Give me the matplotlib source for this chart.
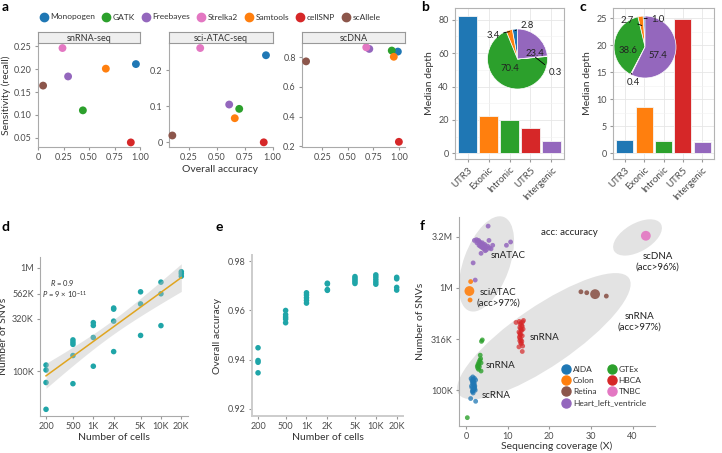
import numpy as np
import matplotlib.pyplot as plt
import matplotlib.transforms as mtransforms
from matplotlib.lines import Line2D
from matplotlib.patches import Ellipse

plt.rcParams['font.family'] = ['Lato', 'DejaVu Sans']
plt.rcParams['font.size'] = 6.5
plt.rcParams['mathtext.fontset'] = 'custom'
plt.rcParams['mathtext.it'] = 'Lato:italic'
plt.rcParams['mathtext.rm'] = 'Lato'
plt.rcParams['text.color'] = '#333333'
plt.rcParams['axes.labelcolor'] = '#333333'
plt.rcParams['xtick.color'] = '#999999'
plt.rcParams['ytick.color'] = '#999999'
plt.rcParams['xtick.labelcolor'] = '#4d4d4d'
plt.rcParams['ytick.labelcolor'] = '#4d4d4d'
plt.rcParams['xtick.major.size'] = 2.5
plt.rcParams['ytick.major.size'] = 2.5
plt.rcParams['xtick.major.pad'] = 2
plt.rcParams['ytick.major.pad'] = 2
plt.rcParams['axes.edgecolor'] = '#aaaaaa'
plt.rcParams['axes.linewidth'] = 0.8

# ---- panel a: benchmarking of callers ----
tools = ['Monopogen', 'GATK', 'Freebayes', 'Strelka2', 'Samtools', 'cellSNP', 'scAllele']
tool_colors = ['#1f77b4', '#2ca02c', '#9467bd', '#e377c2', '#ff7f0e', '#d62728', '#8c564b']
snrna_acc = [0.96, 0.44, 0.295, 0.24, 0.665, 0.91, 0.05]
snrna_sens = [0.211, 0.110, 0.184, 0.246, 0.201, 0.040, 0.164]
sciatac_acc = [0.94, 0.70, 0.61, 0.35, 0.66, 0.92, 0.10]
sciatac_sens = [0.242, 0.093, 0.105, 0.262, 0.067, 0.000, 0.019]
scdna_acc = [0.99, 0.93, 0.71, 0.68, 0.95, 1.00, 0.09]
scdna_sens = [0.839, 0.846, 0.857, 0.868, 0.804, 0.230, 0.773]

# ---- panels b, c: median depth per region + SNV share pies ----
regions = ['UTR3', 'Exonic', 'Intronic', 'UTR5', 'Intergenic']
region_colors = ['#1f77b4', '#ff7f0e', '#2ca02c', '#d62728', '#9467bd']
b_depth = [82.3, 22.2, 20.2, 15.2, 7.2]
c_depth = [2.4, 8.6, 2.35, 24.9, 2.1]
b_share = [2.8, 3.4, 70.4, 0.3, 23.4]
c_share = [1.0, 2.7, 38.6, 0.4, 57.4]

# ---- panel d: number of SNVs vs number of cells ----
d_cells = [200] * 4 + [500] * 5 + [1000] * 4 + [2000] * 4 + [5000] * 3 + [10000] * 3 + [20000] * 3
d_snvs = [115e3, 103e3, 78e3, 43e3,
          201e3, 191e3, 182e3, 142e3, 76e3,
          295e3, 277e3, 212e3, 112e3,
          408e3, 398e3, 305e3, 155e3,
          585e3, 447e3, 222e3,
          725e3, 560e3, 276e3,
          914e3, 875e3, 828e3]

# ---- panel e: accuracy vs number of cells ----
e_cells = [200] * 4 + [500] * 5 + [1000] * 5 + [2000] * 4 + [5000] * 5 + [10000] * 5 + [20000] * 4
e_acc = [0.9448, 0.9396, 0.9389, 0.9346,
         0.9600, 0.9583, 0.9573, 0.9565, 0.9550,
         0.9672, 0.9663, 0.9652, 0.9641, 0.9630,
         0.9711, 0.9708, 0.9685, 0.9682,
         0.9738, 0.9731, 0.9724, 0.9717, 0.9710,
         0.9745, 0.9736, 0.9726, 0.9716, 0.9707,
         0.9735, 0.9729, 0.9694, 0.9683]

# ---- panel f: SNVs vs sequencing coverage per dataset ----
aida_cov = [1.2, 1.4, 1.5, 1.6, 1.7, 1.8, 1.9, 2.0, 2.1, 2.2, 1.5, 1.7, 1.9, 2.1, 1.6,
            1.8, 2.0, 1.4, 1.6, 1.8, 2.0, 2.3, 1.3, 1.7, 1.1, 2.3]
aida_snv = [130e3, 125e3, 120e3, 135e3, 128e3, 118e3, 112e3, 108e3, 104e3, 100e3, 97e3,
            94e3, 102e3, 110e3, 115e3, 123e3, 131e3, 106e3, 99e3, 104e3, 117e3, 126e3,
            110e3, 100e3, 83e3, 78e3]
colon_cov = [1.1, 0.96]
colon_snv = [1.15e6, 0.76e6]
retina_cov = [27.6, 29.0, 33.7]
retina_snv = [0.914e6, 0.895e6, 0.83e6]
heart_cov = [5.3, 2.0, 2.5, 2.8, 3.0, 3.3, 3.6, 3.9, 4.2, 4.5, 4.8, 5.2, 5.6, 6.0, 6.4,
             3.1, 3.7, 4.3, 4.9, 2.6, 3.4, 4.0, 10.7, 9.7, 3.6, 1.7, 2.2, 4.6, 5.5]
heart_snv = [4.0e6, 2.9e6, 2.95e6, 2.85e6, 2.9e6, 2.8e6, 2.7e6, 2.75e6, 2.6e6, 2.65e6,
             2.5e6, 2.55e6, 2.45e6, 2.4e6, 2.6e6, 2.6e6, 2.5e6, 2.4e6, 2.35e6, 2.75e6,
             2.55e6, 2.45e6, 2.8e6, 2.6e6, 2.17e6, 1.75e6, 1.19e6, 2.3e6, 2.9e6]
gtex_cov = [3.7, 3.9, 3.4, 2.7, 2.9, 3.1, 3.3, 3.5, 2.8, 3.0, 3.2, 3.6, 3.0, 3.6, 0.3]
gtex_snv = [300e3, 310e3, 220e3, 172e3, 180e3, 188e3, 196e3, 203e3, 165e3, 175e3, 170e3,
            185e3, 160e3, 154e3, 54e3]
hbca_cov = [12.0, 12.8, 13.0, 13.2, 13.4, 13.6, 12.9, 13.1, 13.3, 13.5, 12.7, 12.9, 13.1,
            13.3, 13.5, 13.7, 12.8, 13.0, 13.2, 13.4, 13.1, 13.3, 12.9, 13.6, 12.7, 13.5,
            13.0, 13.8]
hbca_snv = [459e3, 470e3, 440e3, 455e3, 430e3, 465e3, 410e3, 400e3, 390e3, 420e3, 370e3,
            360e3, 350e3, 380e3, 340e3, 395e3, 330e3, 320e3, 310e3, 300e3, 290e3, 285e3,
            305e3, 270e3, 265e3, 239e3, 345e3, 480e3]
tnbc_cov = []
tnbc_snv = []
# dataset medians (big dots)
median_names = ['Colon', 'Retina', 'TNBC']
median_cov = [0.8, 31.0, 43.2]
median_snv = [0.93e6, 0.867e6, 3.22e6]

datasets = ['AIDA', 'Colon', 'Retina', 'Heart_left_ventricle', 'GTEx', 'HBCA', 'TNBC']
dataset_colors = {'AIDA': '#1f77b4', 'Colon': '#ff7f0e', 'Retina': '#8c564b',
                  'Heart_left_ventricle': '#9467bd', 'GTEx': '#2ca02c', 'HBCA': '#d62728',
                  'TNBC': '#e377c2'}

W, H = 722, 453
fig = plt.figure(figsize=(W / 100, H / 100), dpi=100)


def box(l, t, r, b):
    return fig.add_axes([l / W, 1 - b / H, (r - l) / W, (b - t) / H])


def letter(x, y, s):
    fig.text(x / W, 1 - y / H, s, fontsize=10, fontweight='bold', color='black',
             ha='center', va='center')


def classic(ax):
    ax.spines['top'].set_visible(False)
    ax.spines['right'].set_visible(False)


# ================= panel a =================
facets = [('snRNA-seq', snrna_acc, snrna_sens, (38, 140), (0, 1.0), (0.030, 0.257),
           [0, 0.25, 0.5, 0.75, 1.0], ['0', '0.25', '0.50', '0.75', '1.00'],
           [0.05, 0.10, 0.15, 0.20, 0.25], ['0.05', '0.10', '0.15', '0.20', '0.25']),
          ('sci-ATAC-seq', sciatac_acc, sciatac_sens, (169, 273), (0.07, 1.003), (-0.013, 0.276),
           [0.25, 0.5, 0.75, 1.0], ['0.25', '0.50', '0.75', '1.00'],
           [0, 0.1, 0.2], ['0', '0.1', '0.2']),
          ('scDNA', scdna_acc, scdna_sens, (302, 405), (0.05, 1.06), (0.195, 0.897),
           [0.25, 0.5, 0.75, 1.0], ['0.25', '0.50', '0.75', '1.00'],
           [0.2, 0.4, 0.6, 0.8], ['0.2', '0.4', '0.6', '0.8'])]

for name, xs, ys, (l, r), xl, yl, xt, xtl, yt, ytl in facets:
    ax = box(l, 43, r, 147)
    classic(ax)
    ax.scatter(xs, ys, c=tool_colors, s=32, edgecolors='none', zorder=3, clip_on=False)
    ax.set_xlim(*xl)
    ax.set_ylim(*yl)
    ax.set_xticks(xt, xtl)
    ax.set_yticks(yt, ytl)
    strip = box(l, 32, r, 43)
    strip.set_facecolor('#efefef')
    strip.set_xticks([])
    strip.set_yticks([])
    for sp in strip.spines.values():
        sp.set_color('#999999')
    strip.text(0.5, 0.45, name, ha='center', va='center', fontsize=6.5, color='#333333',
               transform=strip.transAxes)

fig.text(220 / W, 1 - 170 / H, 'Overall accuracy', ha='center', va='center', fontsize=7.5)
fig.text(6 / W, 1 - 95 / H, 'Sensitivity (recall)', ha='center', va='center', fontsize=7.5,
         rotation=90)

handles = [Line2D([], [], marker='o', ls='none', color=c, markersize=6) for c in tool_colors]
fig.legend(handles, tools, ncol=7, loc='center', bbox_to_anchor=(210 / W, 1 - 17 / H),
           frameon=False, fontsize=6, handletextpad=0.3, columnspacing=0.8,
           handlelength=1.0, borderpad=0)
letter(5, 7, 'a')


# ================= panels b, c =================
def depth_panel(l, r, depth, ylim, yticks, minor, share, pie_rect, pie_labels):
    ax = box(l, 8, r, 159)
    xpos = np.arange(len(regions))
    ax.bar(xpos, depth, width=0.87, color=region_colors, edgecolor='#f5f5f5', linewidth=0.6,
           zorder=2)
    ax.set_xlim(-0.6, len(regions) - 0.4)
    ax.set_ylim(*ylim)
    ax.set_yticks(yticks)
    ax.set_yticks(minor, minor=True)
    ax.tick_params(axis='y', which='minor', length=0)
    ax.set_xticks(xpos, regions, rotation=45, ha='right', rotation_mode='anchor', fontsize=7)
    ax.grid(True, which='major', color='#e6e6e6', lw=0.6, zorder=0)
    ax.grid(True, which='minor', axis='y', color='#f2f2f2', lw=0.4, zorder=0)
    for sp in ax.spines.values():
        sp.set_color('#b3b3b3')
    ax.set_ylabel('Median depth', fontsize=7.5, labelpad=3)

    pax = box(*pie_rect)
    wedges, _ = pax.pie(share, colors=region_colors, startangle=90, counterclock=True,
                        wedgeprops=dict(edgecolor='white', linewidth=0.5))
    pax.set_xlim(-1, 1)
    pax.set_ylim(-1, 1)
    pax.set_aspect('equal')
    for i, (tx, ty, rr) in pie_labels.items():
        lab = '%.1f' % share[i]
        if rr is None:
            pax.text(tx, ty, lab, ha='center', va='center', fontsize=6.8, color='#222222')
        else:
            w = wedges[i]
            ang = np.deg2rad((w.theta1 + w.theta2) / 2)
            pax.annotate(lab, xy=(rr * np.cos(ang), rr * np.sin(ang)), xytext=(tx, ty),
                         ha='center', va='center', fontsize=6.8, color='#222222',
                         arrowprops=dict(arrowstyle='-', color='black', lw=0.6,
                                         shrinkA=1, shrinkB=0),
                         annotation_clip=False)
    return ax


depth_panel(455, 564, b_depth, (-3.4, 87), [0, 20, 40, 60, 80], [10, 30, 50, 70],
            b_share, (487.5, 29, 547.5, 89),
            {0: (0.32, 1.13, 0.95), 1: (-0.82, 0.80, 0.95), 2: (-0.25, -0.33, None),
             3: (1.25, -0.46, 0.6), 4: (0.58, 0.2, None)})
depth_panel(613, 714, c_depth, (-1.03, 26.9), [0, 5, 10, 15, 20, 25], [2.5, 7.5, 12.5, 17.5, 22.5],
            c_share, (614, 16, 676, 78),
            {0: (0.42, 0.9, 0.92), 1: (-0.58, 0.87, 0.7), 2: (-0.55, -0.1, None),
             3: (-0.39, -1.16, 0.95), 4: (0.42, -0.26, None)})
letter(425, 7, 'b')
letter(583, 7, 'c')

# ================= panel d =================
teal = '#1fa5a8'
ax = box(40, 257, 188, 416)
classic(ax)
lx = np.log10(d_cells)
ly = np.log10(d_snvs)
slope, icpt = np.polyfit(lx, ly, 1)
n = len(lx)
resid = ly - (slope * lx + icpt)
s_err = np.sqrt(np.sum(resid ** 2) / (n - 2))
gx = np.linspace(lx.min(), lx.max(), 100)
gy = slope * gx + icpt
se = s_err * np.sqrt(1 / n + (gx - lx.mean()) ** 2 / np.sum((lx - lx.mean()) ** 2))
t_crit = 2.064
ax.scatter(d_cells, d_snvs, s=16, color=teal, edgecolors='none', zorder=2)
ax.fill_between(10 ** gx, 10 ** (gy - t_crit * se), 10 ** (gy + t_crit * se),
                color='#bdbdbd', alpha=0.4, lw=0, zorder=3)
ax.plot(10 ** gx, 10 ** gy, color='#e0a520', lw=1.1, zorder=4)
ax.set_xscale('log')
ax.set_yscale('log')
ax.set_xlim(10 ** 2.212, 10 ** 4.40)
ax.set_ylim(10 ** 4.569, 10 ** 6.103)
cell_ticks = [200, 500, 1000, 2000, 5000, 10000, 20000]
cell_labels = ['200', '500', '1K', '2K', '5K', '10K', '20K']
ax.set_xticks(cell_ticks, cell_labels)
ax.set_xticks([], minor=True)
ax.set_yticks([1e5, 10 ** 5.505, 10 ** 5.75, 1e6], ['100K', '320K', '562K', '1M'])
ax.set_yticks([], minor=True)
ax.set_xlabel('Number of cells', fontsize=7.5, labelpad=1)
ax.set_ylabel('Number of SNVs', fontsize=7.5, labelpad=3)
ax.text(0.155, 0.838, r'$\it{R}$ = 0.9', transform=ax.transAxes, ha='center', va='center',
        fontsize=5.5)
ax.text(0.165, 0.765, r'$\it{P}$ = 9 × 10$^{-11}$', transform=ax.transAxes, ha='center',
        va='center', fontsize=5.5)
letter(5, 227, 'd')

# ================= panel e =================
ax = box(252, 255, 403, 416)
classic(ax)
ax.spines['left'].set_color('#cccccc')
ax.spines['left'].set_linewidth(1.4)
ax.spines['bottom'].set_color('#cccccc')
ax.spines['bottom'].set_linewidth(1.4)
ax.scatter(e_cells, e_acc, s=16, color=teal, edgecolors='none', zorder=2)
ax.set_xscale('log')
ax.set_xlim(10 ** 2.214, 10 ** 4.392)
ax.set_ylim(0.917, 0.9826)
ax.set_xticks(cell_ticks, cell_labels)
ax.set_xticks([], minor=True)
ax.set_yticks([0.92, 0.94, 0.96, 0.98], ['0.92', '0.94', '0.96', '0.98'])
ax.set_xlabel('Number of cells', fontsize=7.5, labelpad=1)
ax.set_ylabel('Overall accuracy', fontsize=7.5, labelpad=4)
letter(219, 227, 'e')

# ================= panel f =================
ax = box(459, 217, 655, 426)
classic(ax)
ax.set_yscale('log')
ax.set_xlim(-1.7, 45.4)
ax.set_ylim(10 ** 4.651, 10 ** 6.691)

# grey group ellipses: centre in data units, size in pixels, angle in display degrees
ell_cx = [4.9, 18.7, 41.2]
ell_cy = [1.71e6, 337e3, 3.1e6]
ell_w = [100, 206, 54]
ell_h = [46, 60, 28]
ell_ang = [70, 34.3, 30]
for cx, cy, w, h, a in zip(ell_cx, ell_cy, ell_w, ell_h, ell_ang):
    tr = fig.dpi_scale_trans + mtransforms.ScaledTranslation(cx, cy, ax.transData)
    ax.add_patch(Ellipse((0, 0), w / 100, h / 100, angle=a, transform=tr,
                         facecolor='#e3e3e3', edgecolor='none', zorder=0, clip_on=False))

groups = [('AIDA', aida_cov, aida_snv, 0.75), ('Colon', colon_cov, colon_snv, 0.9),
          ('Retina', retina_cov, retina_snv, 0.9), ('Heart_left_ventricle', heart_cov, heart_snv, 0.85),
          ('GTEx', gtex_cov, gtex_snv, 0.8), ('HBCA', hbca_cov, hbca_snv, 0.7),
          ('TNBC', tnbc_cov, tnbc_snv, 0.9)]
for name, xs, ys, al in groups:
    if xs:
        ax.scatter(xs, ys, s=12, color=dataset_colors[name], alpha=al, edgecolors='none', zorder=2)
for name, x, y in zip(median_names, median_cov, median_snv):
    ax.scatter([x], [y], s=50, color=dataset_colors[name], alpha=0.9, edgecolors='none', zorder=3)

ax.set_xticks([0, 10, 20, 30, 40])
ax.set_yticks([1e5, 10 ** 5.5, 1e6, 10 ** 6.5], ['100K', '316K', '1M', '3.2M'])
ax.set_yticks([], minor=True)
ax.set_xlabel('Sequencing coverage (X)', fontsize=7.5, labelpad=0)
ax.set_ylabel('Number of SNVs', fontsize=7.5, labelpad=4)

f_txt = dict(fontsize=7, color='#222222', ha='center', va='center', linespacing=1.2)
ax.text(10.2, 2.06e6, 'snATAC', **f_txt)
ax.text(7.7, 0.795e6, 'sciATAC\n(acc>97%)', **f_txt)
ax.text(24.8, 3.47e6, 'acc: accuracy', **f_txt)
ax.text(46.0, 1.78e6, 'scDNA\n(acc>96%)', **f_txt)
ax.text(41.7, 466e3, 'snRNA\n(acc>97%)', **f_txt)
ax.text(18.9, 327e3, 'snRNA', **f_txt)
ax.text(8.35, 173e3, 'snRNA', **f_txt)
ax.text(7.15, 88e3, 'scRNA', **f_txt)

# legend as two columns placed independently (long label in first column overhangs)
f_handles = {d: Line2D([], [], marker='o', ls='none', color=dataset_colors[d], markersize=6.5)
             for d in datasets}
leg_kw = dict(loc='upper left', frameon=False, fontsize=6, handletextpad=0.3,
              handlelength=1.0, labelspacing=0.5, borderpad=0, borderaxespad=0)
col1 = datasets[:4]
col2 = datasets[4:]
leg1 = ax.legend([f_handles[d] for d in col1], col1,
                 bbox_to_anchor=(562 / W, 1 - 366 / H), bbox_transform=fig.transFigure, **leg_kw)
ax.add_artist(leg1)
ax.legend([f_handles[d] for d in col2], col2,
          bbox_to_anchor=(607.5 / W, 1 - 366 / H), bbox_transform=fig.transFigure, **leg_kw)
letter(422, 226, 'f')

fig.savefig('out.png', dpi=100)
